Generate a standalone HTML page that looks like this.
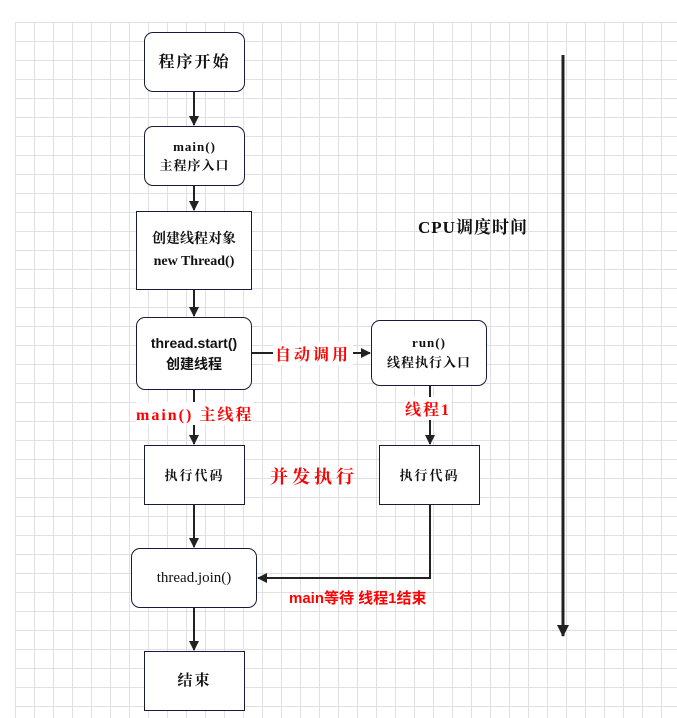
<!DOCTYPE html>
<html><head><meta charset="utf-8"><style>
body{margin:0;width:677px;height:718px;overflow:hidden;background:#fff;font-family:"Liberation Serif","Noto Serif CJK SC",serif;}
.grid{position:absolute;left:15px;top:22px;width:662px;height:696px;
background-image:linear-gradient(#e0e0e0 1px,transparent 1px),linear-gradient(90deg,#e0e0e0 1px,transparent 1px);
background-size:19px 19px;}
.b{position:absolute;box-sizing:border-box;border:1.5px solid #1a1a3a;background:#fff;display:flex;align-items:center;justify-content:center;text-align:center;font-size:14px;line-height:21px;color:#111;font-weight:bold}
.r{border-radius:9px}
.red{position:absolute;color:#f00;font-weight:bold;font-size:15px;background:#fff;white-space:nowrap;letter-spacing:2px}
</style></head><body>
<div class="grid"></div>
<svg width="677" height="718" style="position:absolute;left:0;top:0">
<defs><marker id="a" markerWidth="10" markerHeight="10" refX="9" refY="5" orient="auto" markerUnits="userSpaceOnUse"><path d="M0,0L10,5L0,10z" fill="#222"/></marker>
<marker id="c" markerWidth="12" markerHeight="12" refX="11" refY="6" orient="auto" markerUnits="userSpaceOnUse"><path d="M0,0L12,6L0,12z" fill="#222"/></marker></defs>
<g stroke="#222" stroke-width="2" fill="none">
<line x1="194" y1="92" x2="194" y2="125" marker-end="url(#a)"/>
<line x1="194" y1="186" x2="194" y2="210" marker-end="url(#a)"/>
<line x1="194" y1="290" x2="194" y2="316" marker-end="url(#a)"/>
<line x1="194" y1="390" x2="194" y2="444" marker-end="url(#a)"/>
<line x1="252" y1="353" x2="370" y2="353" marker-end="url(#a)"/>
<line x1="430" y1="386" x2="430" y2="444" marker-end="url(#a)"/>
<line x1="194" y1="505" x2="194" y2="547" marker-end="url(#a)"/>
<polyline points="430,505 430,578 258,578" marker-end="url(#a)"/>
<line x1="194" y1="608" x2="194" y2="650" marker-end="url(#a)"/>
<line x1="563" y1="55" x2="563" y2="636" stroke-width="3" marker-end="url(#c)"/>
</g></svg>
<div class="b r" style="left:144px;top:32px;width:101px;height:60px;font-size:16px;letter-spacing:2px">程序开始</div>
<div class="b r" style="left:144px;top:126px;width:101px;height:60px;font-size:13px;line-height:19px;letter-spacing:1px">main()<br>主程序入口</div>
<div class="b" style="left:136px;top:211px;width:116px;height:79px;font-size:14px;line-height:22px">创建线程对象<br>new Thread()</div>
<div class="b r" style="left:136px;top:317px;width:116px;height:73px;font-family:'Liberation Sans','Noto Sans CJK SC',sans-serif;font-size:14px">thread.start()<br>创建线程</div>
<div class="b r" style="left:371px;top:320px;width:116px;height:66px;font-size:13px;line-height:20px;letter-spacing:1px">run()<br>线程执行入口</div>
<div class="b" style="left:144px;top:445px;width:101px;height:60px;font-size:13px;letter-spacing:2px">执行代码</div>
<div class="b" style="left:379px;top:445px;width:101px;height:60px;font-size:13px;letter-spacing:2px">执行代码</div>
<div class="b r" style="left:131px;top:548px;width:126px;height:60px;font-size:15px;font-weight:normal">thread.join()</div>
<div class="b" style="left:144px;top:651px;width:101px;height:60px;font-size:15px;letter-spacing:2px">结束</div>
<div class="red" style="left:273px;top:342px;font-size:16px;letter-spacing:3px;padding:0 2px">自动调用</div>
<div class="red" style="left:136px;top:402px;font-size:16px">main() 主线程</div>
<div class="red" style="left:405px;top:397px;font-size:16px">线程1</div>
<div class="red" style="left:270px;top:463px;font-size:18px;background:none;letter-spacing:4px">并发执行</div>
<div class="red" style="left:289px;top:587px;font-family:'Liberation Sans','Noto Sans CJK SC',sans-serif;background:none;letter-spacing:0">main等待 线程1结束</div>
<div style="position:absolute;left:418px;top:213px;font-size:17px;font-weight:bold;color:#111;letter-spacing:1px">CPU调度时间</div>
</body></html>
